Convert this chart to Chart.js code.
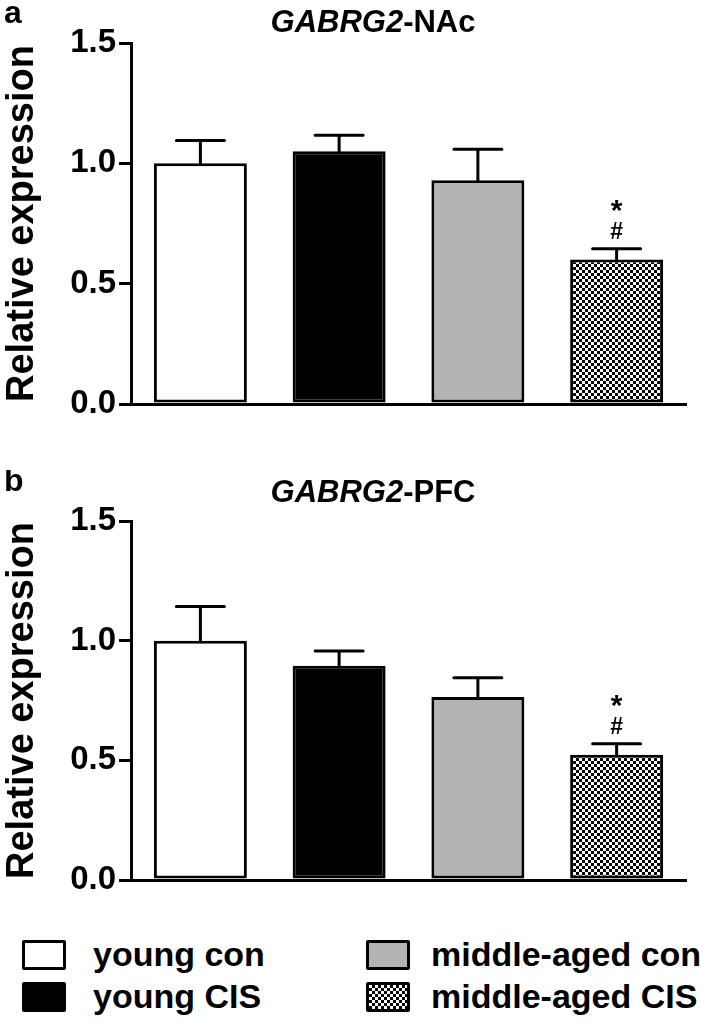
<!DOCTYPE html>
<html>
<head>
<meta charset="utf-8">
<script src="https://cdn.jsdelivr.net/npm/chart.js@4.4.1/dist/chart.umd.min.js"></script>
<style>
  body { margin: 0; background: #fff; width: 708px; height: 1028px; position: relative; overflow: hidden;
         font-family: "Liberation Sans", Arial, sans-serif; }
  canvas { position: absolute; left: 0; }
  #chartA { top: 0; }
  #chartB { top: 470px; }
  .leg { position: absolute; display: flex; align-items: center; font-weight: bold; font-size: 34px; color: #000; white-space: nowrap; }
  .sw { width: 38px; height: 24px; border: 3px solid #000; border-radius: 2px; margin-right: 27px; flex: none; }
</style>
</head>
<body>
<canvas id="chartA" width="708" height="470"></canvas>
<canvas id="chartB" width="708" height="440"></canvas>

<div class="leg" style="left:22px; top:935px;"><div class="sw" style="background:#fff"></div>young con</div>
<div class="leg" style="left:22px; top:977px;"><div class="sw" style="background:#000"></div>young CIS</div>
<div class="leg" style="left:366px; top:935px;"><div class="sw" style="background:#b3b3b3; margin-right:21px"></div>middle-aged con</div>
<div class="leg" style="left:366px; top:977px;"><div class="sw" style="background:repeating-conic-gradient(#000 0 25%, #fff 0 50%) 0 0/6px 6px; margin-right:21px"></div>middle-aged CIS</div>

<script>
const categories = ['young con', 'young CIS', 'middle-aged con', 'middle-aged CIS'];
const nacMeans = [1.0, 1.05, 0.93, 0.60];
const nacErrors = [0.095, 0.067, 0.128, 0.045];
const pfcMeans = [1.0, 0.895, 0.765, 0.523];
const pfcErrors = [0.143, 0.062, 0.08, 0.046];
const yTickLabels = ['0.0', '0.5', '1.0', '1.5'];
const sigMarks = ['', '', '', '*#'];

// checker pattern for middle-aged CIS
function makePattern() {
  const c = document.createElement('canvas');
  c.width = 6; c.height = 6;
  const g = c.getContext('2d');
  g.fillStyle = '#fff';
  g.fillRect(0, 0, 6, 6);
  g.fillStyle = '#000';
  g.fillRect(0, 0, 3, 3);
  g.fillRect(3, 3, 3, 3);
  return g.createPattern(c, 'repeat');
}

const errorBars = {
  id: 'errorBars',
  afterDatasetsDraw(chart, args, opts) {
    const ctx = chart.ctx;
    const y = chart.scales.y;
    const ds = chart.data.datasets[0].data;
    ctx.save();
    ctx.strokeStyle = '#000';
    ctx.lineWidth = 3;
    ctx.lineCap = 'round';
    chart.getDatasetMeta(0).data.forEach((bar, i) => {
      const top = y.getPixelForValue(ds[i] + opts.errors[i]);
      ctx.beginPath();
      ctx.moveTo(bar.x, bar.y);
      ctx.lineTo(bar.x, top);
      ctx.moveTo(bar.x - 24, top);
      ctx.lineTo(bar.x + 24, top);
      ctx.stroke();
      if (sigMarks[i]) {
        ctx.fillStyle = '#000';
        ctx.textAlign = 'center';
        ctx.textBaseline = 'middle';
        ctx.font = 'bold 23px "Liberation Sans"';
        ctx.fillText('#', bar.x, top - 16);
        ctx.font = 'bold 30px "Liberation Sans"';
        ctx.fillText('*', bar.x, top - 37);
      }
    });
    ctx.restore();
  }
};

const panelTitle = {
  id: 'panelTitle',
  afterDraw(chart, args, opts) {
    const ctx = chart.ctx;
    ctx.save();
    ctx.fillStyle = '#000';
    ctx.textBaseline = 'middle';
    ctx.textAlign = 'left';
    ctx.font = 'bold 32px "Liberation Sans"';
    ctx.fillText(opts.letter, 4, opts.letterY);
    const f1 = 'italic bold 31px "Liberation Sans"';
    const f2 = 'bold 31px "Liberation Sans"';
    ctx.font = f1;
    const w1 = ctx.measureText('GABRG2').width;
    ctx.font = f2;
    const w2 = ctx.measureText(opts.region).width;
    let x = 373 - (w1 + w2) / 2;
    ctx.font = f1;
    ctx.fillText('GABRG2', x, opts.titleY);
    ctx.font = f2;
    ctx.fillText(opts.region, x + w1, opts.titleY);
    ctx.restore();
  }
};

function makeChart(id, means, errors, letter, region, pad, letterY, titleY) {
  new Chart(document.getElementById(id), {
    type: 'bar',
    data: {
      labels: categories,
      datasets: [{
        data: means,
        backgroundColor: ['#ffffff', '#000000', '#b3b3b3', makePattern()],
        borderColor: '#000',
        borderWidth: 3,
        borderSkipped: false,
        categoryPercentage: 1,
        barPercentage: 0.67
      }]
    },
    options: {
      responsive: false,
      devicePixelRatio: 1,
      animation: false,
      layout: { padding: pad },
      plugins: {
        legend: { display: false },
        tooltip: { enabled: false },
        errorBars: { errors: errors },
        panelTitle: { letter: letter, region: region, letterY: letterY, titleY: titleY }
      },
      scales: {
        x: {
          grid: { display: false },
          border: { display: true, color: '#000', width: 3 },
          ticks: { display: false }
        },
        y: {
          min: 0, max: 1.5,
          afterFit(scale) { scale.width = 131; },
          grid: { drawOnChartArea: false, drawTicks: true, tickLength: 12, color: '#000', lineWidth: 3 },
          border: { display: true, color: '#000', width: 3 },
          ticks: {
            stepSize: 0.5,
            padding: 3,
            color: '#000',
            font: { family: 'Liberation Sans', size: 33, weight: 'bold' },
            callback: (v) => yTickLabels[Math.round(v / 0.5)]
          },
          title: {
            display: true,
            text: 'Relative expression',
            color: '#000',
            padding: 0,
            font: { family: 'Liberation Sans', size: 38, weight: 'bold' }
          }
        }
      }
    },
    plugins: [errorBars, panelTitle]
  });
}

makeChart('chartA', nacMeans, nacErrors, 'a', '-NAc', { left: 0, top: 43, right: 22, bottom: 58 }, 14, 23);
makeChart('chartB', pfcMeans, pfcErrors, 'b', '-PFC', { left: 0, top: 51, right: 22, bottom: 22 }, 12, 23);
</script>
</body>
</html>
